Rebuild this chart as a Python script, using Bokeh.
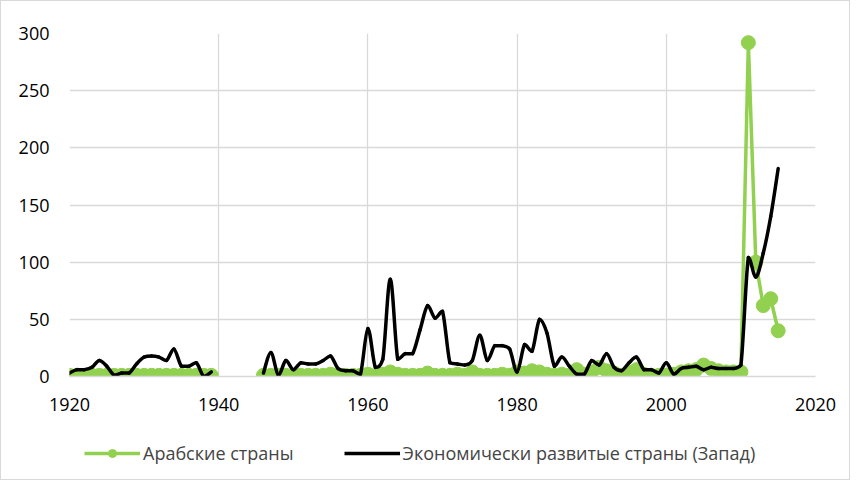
import numpy as np
from bokeh.plotting import figure
from bokeh.layouts import column
from bokeh.models import Range1d, FixedTicker, Legend, LegendItem, ColumnDataSource
from bokeh.embed import file_html
from bokeh.resources import INLINE

nan = float("nan")

years = list(range(1920, 2016))

# Арабские страны (NaN = no data, 1940-1945)
arab_1920_1939 = [1, 1, 1, 1, 1, 1, 1, 1, 1, 1, 1, 1, 1, 1, 1, 1, 1, 1, 1, 1]
arab_gap = [nan] * 6
arab_1946_2015 = [1, 1, 1, 1, 1, 1, 1, 1, 1, 2,   # 1946-1955
                  1, 1, 1, 1, 2, 1, 2, 4, 2, 1,   # 1956-1965
                  1, 1, 3, 1, 1, 1, 2, 1, 4, 1,   # 1966-1975
                  1, 1, 2, 1, 4, 3, 5, 4, 2, 1,   # 1976-1985
                  2, 1, 6, 2, 4, 8, 5, 3, 1, 4,   # 1986-1995
                  6, 2, 1, 1, 1, 2, 4, 5, 6, 10,  # 1996-2005
                  7, 5, 4, 4, 4, 292, 100, 62, 68, 40]  # 2006-2015
arab = arab_1920_1939 + arab_gap + arab_1946_2015

# Экономически развитые страны (Запад)
west_1920_1939 = [3, 6, 6, 8, 14, 9, 1, 3, 3, 11,
                  17, 18, 17, 14, 24, 9, 9, 12, 0, 4]
west_gap = [nan] * 6
west_1946_2015 = [3, 21, 1, 14, 6, 12, 11, 11, 14, 18,   # 1946-1955
                  7, 5, 5, 2, 42, 8, 15, 85, 15, 20,     # 1956-1965
                  20, 41, 62, 51, 57, 12, 11, 10, 14, 36,  # 1966-1975
                  14, 27, 27, 24, 4, 28, 22, 50, 38, 9,  # 1976-1985
                  17, 9, 2, 2, 14, 10, 20, 8, 5, 12,     # 1986-1995
                  17, 6, 6, 3, 12, 2, 7, 8, 9, 6,        # 1996-2005
                  8, 7, 7, 7, 10, 104, 87, 108, 140, 182]  # 2006-2015
west = west_1920_1939 + west_gap + west_1946_2015

y_ticks = [0, 50, 100, 150, 200, 250, 300]
x_ticks = [1920, 1940, 1960, 1980, 2000, 2020]

label_arab = "Арабские страны"
label_west = "Экономически развитые страны (Запад)"

GREEN = "#92D050"
GRID = "#d9d9d9"
FONT = "Open Sans"


def smooth_segments(xs, ys):
    """Bezier segments joining consecutive data points (smoothed line, no overshoot)."""
    xs = np.asarray(xs, float)
    ys = np.asarray(ys, float)
    n = len(xs)
    out = dict(x0=[], y0=[], x1=[], y1=[], cx0=[], cy0=[], cx1=[], cy1=[])
    for i in range(n - 1):
        if np.isnan(ys[i]) or np.isnan(ys[i + 1]):
            continue
        p1 = (xs[i], ys[i])
        p2 = (xs[i + 1], ys[i + 1])
        p0 = (xs[i - 1], ys[i - 1]) if i > 0 and not np.isnan(ys[i - 1]) else p1
        p3 = (xs[i + 2], ys[i + 2]) if i + 2 < n and not np.isnan(ys[i + 2]) else p2
        lo, hi = min(p1[1], p2[1]), max(p1[1], p2[1])
        out["x0"].append(p1[0]); out["y0"].append(p1[1])
        out["x1"].append(p2[0]); out["y1"].append(p2[1])
        out["cx0"].append(p1[0] + (p2[0] - p0[0]) / 6)
        out["cy0"].append(min(max(p1[1] + (p2[1] - p0[1]) / 6, lo), hi))
        out["cx1"].append(p2[0] - (p3[0] - p1[0]) / 6)
        out["cy1"].append(min(max(p2[1] - (p3[1] - p1[1]) / 6, lo), hi))
    return ColumnDataSource(out)


src = ColumnDataSource(dict(year=years, arab=arab, west=west))
west_curve = smooth_segments(years, west)

p = figure(width=848, height=420, output_backend="svg", toolbar_location=None,
           x_range=Range1d(1920, 2020), y_range=Range1d(0, 300),
           min_border_left=68, min_border_right=34, min_border_top=32,
           min_border_bottom=45)

p.outline_line_color = None
p.background_fill_color = "white"
p.border_fill_color = "white"

p.xaxis.ticker = FixedTicker(ticks=x_ticks)
p.yaxis.ticker = FixedTicker(ticks=y_ticks)
p.xgrid.ticker = FixedTicker(ticks=x_ticks)
p.ygrid.ticker = FixedTicker(ticks=y_ticks)
p.xgrid.grid_line_color = GRID
p.ygrid.grid_line_color = GRID
p.xgrid.grid_line_width = 1.3
p.ygrid.grid_line_width = 1.3

for ax in (p.xaxis, p.yaxis):
    ax.major_tick_line_color = None
    ax.minor_tick_line_color = None
    ax.major_label_text_font = FONT
    ax.major_label_text_font_size = "18px"
    ax.major_label_text_color = "#000000"
p.yaxis.axis_line_color = None
p.xaxis.axis_line_color = GRID
p.xaxis.axis_line_width = 1.3
p.yaxis.major_label_standoff = 14
p.xaxis.major_label_standoff = 15

p.line("year", "arab", source=src, line_color=GREEN, line_width=3.5)
p.scatter("year", "arab", source=src, size=14, fill_color=GREEN, line_color=GREEN)
p.bezier(x0="x0", y0="y0", x1="x1", y1="y1", cx0="cx0", cy0="cy0", cx1="cx1", cy1="cy1",
         source=west_curve, line_color="black", line_width=3.5, line_cap="round")

# Legend strip: the same series drawn outside its visible range, so only the legend shows
lg = figure(width=848, height=58, output_backend="svg", toolbar_location=None,
            x_range=Range1d(0, 1), y_range=Range1d(0, 1),
            x_axis_type=None, y_axis_type=None,
            min_border_left=0, min_border_right=0, min_border_top=0, min_border_bottom=0)
lg.outline_line_color = None
lg.grid.visible = False
lg.background_fill_color = "white"
lg.border_fill_color = "white"
la_line = lg.line("year", "arab", source=src, line_color=GREEN, line_width=3.5)
la_pts = lg.scatter("year", "arab", source=src, size=14, fill_color=GREEN, line_color=GREEN)
lw_line = lg.line("year", "west", source=src, line_color="black", line_width=3.5)

legend = Legend(items=[LegendItem(label=label_arab, renderers=[la_line, la_pts]),
                       LegendItem(label=label_west, renderers=[lw_line])],
                orientation="horizontal", location=(15, 14),
                label_text_font=FONT, label_text_font_size="18px",
                glyph_width=56, glyph_height=20, label_standoff=3,
                spacing=50, padding=0, margin=0,
                border_line_color=None, background_fill_alpha=0)
lg.add_layout(legend, "center")

layout = column(p, lg, spacing=0)
layout.styles = {"border": "1px solid #d9d9d9"}

open("out.html", "w").write(file_html(layout, INLINE))
